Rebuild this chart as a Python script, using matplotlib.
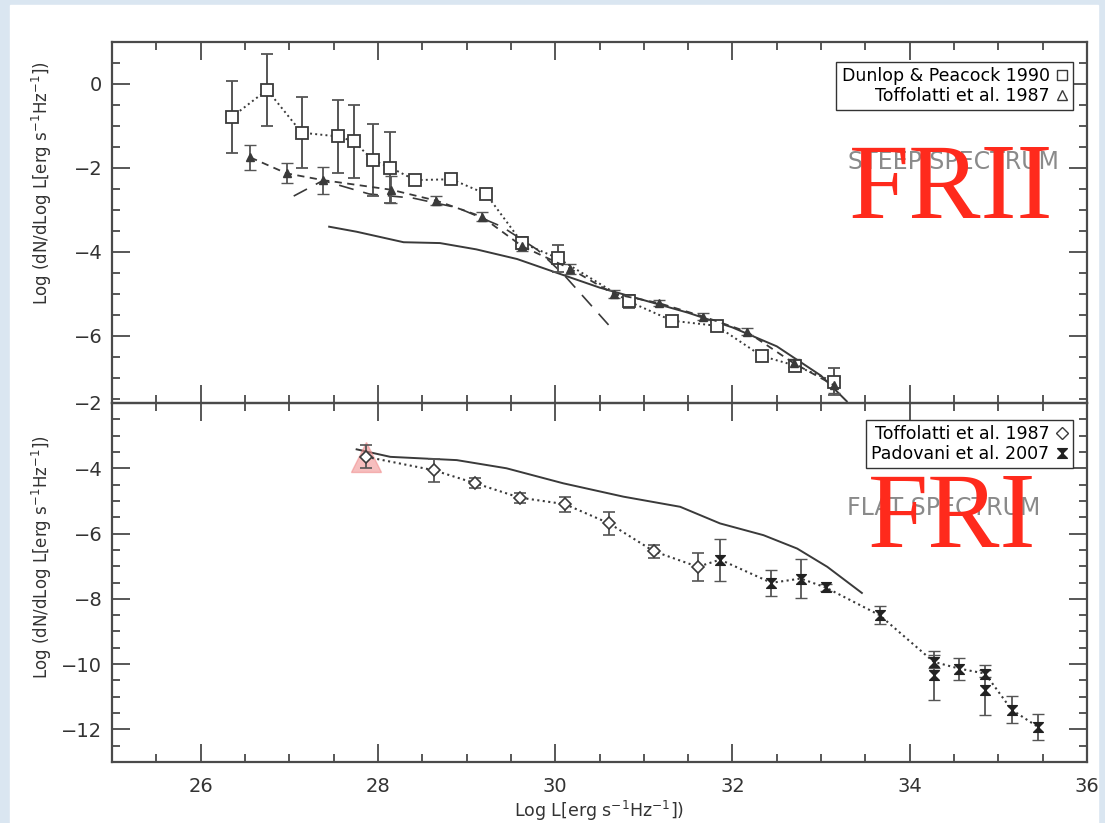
import matplotlib
matplotlib.use("Agg")
import matplotlib.pyplot as plt
from matplotlib.lines import Line2D
from matplotlib.patches import Rectangle
from matplotlib.path import Path
from matplotlib.ticker import MultipleLocator

# --- steep spectrum (FRII) panel ---
# Dunlop & Peacock 1990 (open squares)
dp_x = [26.35, 26.75, 27.14, 27.55, 27.73, 27.94, 28.14, 28.42, 28.83, 29.22,
        29.63, 30.03, 30.83, 31.32, 31.82, 32.33, 32.71, 33.14]
dp_y = [-0.79, -0.14, -1.16, -1.25, -1.37, -1.81, -1.99, -2.29, -2.27, -2.62,
        -3.79, -4.15, -5.18, -5.64, -5.76, -6.48, -6.71, -7.09]
dp_err = [0.86, 0.85, 0.85, 0.87, 0.86, 0.85, 0.85, 0.08, 0.08, 0.10,
          0.15, 0.32, 0.15, 0.08, 0.10, 0.12, 0.12, 0.33]

# Toffolatti et al. 1987 (triangles)
tf_x = [26.56, 26.97, 27.38, 28.15, 28.66, 29.17, 29.63, 30.17, 30.66, 31.17,
        31.67, 32.16, 32.69, 33.14]
tf_y = [-1.75, -2.13, -2.29, -2.52, -2.78, -3.16, -3.87, -4.40, -5.00, -5.22,
        -5.54, -5.90, -6.65, -7.17]
tf_err = [0.30, 0.24, 0.32, 0.32, 0.10, 0.10, 0.12, 0.12, 0.10, 0.08,
          0.08, 0.08, 0.10, 0.20]

# model curves, steep spectrum
steep_solid_x = [27.45, 27.76, 28.29, 28.70, 29.11, 29.57, 30.02, 30.50, 31.00,
                 31.50, 32.00, 32.50, 33.00, 33.29]
steep_solid_y = [-3.40, -3.52, -3.77, -3.79, -3.94, -4.17, -4.50, -4.85, -5.15,
                 -5.45, -5.80, -6.25, -6.95, -7.56]
steep_dash_x = [27.05, 27.38, 27.90, 28.40, 28.90, 29.40, 29.80, 30.10, 30.67]
steep_dash_y = [-2.67, -2.30, -2.62, -2.72, -2.95, -3.40, -3.95, -4.55, -5.90]

# --- flat spectrum (FRI) panel ---
# Toffolatti et al. 1987 (diamonds)
td_x = [27.87, 28.63, 29.10, 29.60, 30.11, 30.61, 31.11, 31.61]
td_y = [-3.65, -4.06, -4.46, -4.90, -5.10, -5.69, -6.54, -7.02]
td_err = [0.35, 0.35, 0.15, 0.15, 0.23, 0.35, 0.20, 0.43]

# Padovani et al. 2007 (bowties)
pd_x = [31.86, 32.44, 32.77, 33.05, 33.66, 34.27, 34.56, 34.85, 35.15, 35.45]
pd_y = [-6.80, -7.51, -7.38, -7.65, -8.50, -9.93, -10.14, -10.29, -11.40, -11.93]
pd_err = [0.64, 0.40, 0.60, 0.10, 0.28, 0.20, 0.34, 0.10, 0.42, 0.41]
pd2_x = [34.27, 34.85]
pd2_y = [-10.34, -10.80]
pd2_err = [0.75, 0.77]

flat_solid_x = [27.76, 28.14, 28.89, 29.45, 30.09, 30.77, 31.41, 31.86, 32.35,
                32.73, 33.07, 33.46]
flat_solid_y = [-3.42, -3.65, -3.75, -4.00, -4.46, -4.87, -5.18, -5.69, -6.05,
                -6.46, -7.02, -7.82]

ink = "#3a3a3a"
frame = "#4a4a4a"
red = "#ff2a1c"
ylab = r"Log (dN/dLog L[erg s$^{-1}$Hz$^{-1}$])"

# hourglass marker for the Padovani points
bowtie = Path([(-1, 1), (1, 1), (-1, -1), (1, -1), (-1, 1)],
              [Path.MOVETO, Path.LINETO, Path.LINETO, Path.LINETO, Path.CLOSEPOLY])

W, H = 1105, 823
fig = plt.figure(figsize=(W / 100, H / 100), dpi=100, facecolor="#dae6f1")
# white sheet behind the plot
fig.patches.append(Rectangle((10 / W, 0), (1098 - 10) / W, (H - 5) / H,
                             transform=fig.transFigure, color="white", zorder=-10))

left, width = 112 / W, 975 / W
ax1 = fig.add_axes([left, 1 - 403 / H, width, 361 / H])
ax2 = fig.add_axes([left, 1 - 762 / H, width, 359 / H])


def style(ax):
    ax.set_xlim(25, 36)
    ax.xaxis.set_major_locator(MultipleLocator(2))
    ax.xaxis.set_minor_locator(MultipleLocator(0.5))
    ax.yaxis.set_major_locator(MultipleLocator(2))
    ax.yaxis.set_minor_locator(MultipleLocator(0.5))
    ax.tick_params(which="both", direction="in", top=True, right=True,
                   color=frame, width=1.3, labelsize=14, labelcolor="#333333")
    ax.tick_params(which="major", length=13)
    ax.tick_params(which="minor", length=6)
    ax.tick_params(axis="y", pad=7)
    ax.tick_params(axis="x", pad=11)
    for s in ax.spines.values():
        s.set_color(frame)
        s.set_linewidth(1.6)
    ax.set_facecolor("none")


def key(ax, handles, labels, top):
    ax.legend(handles, labels, loc="upper right", bbox_to_anchor=(0.9856, top),
              markerfirst=False, alignment="right", fancybox=False,
              edgecolor="#333333", framealpha=1, fontsize=12.5,
              handlelength=0.7, handletextpad=0.35, borderpad=0.3,
              labelspacing=0.1, borderaxespad=0)


# top panel: steep spectrum
style(ax1)
ax1.set_ylim(-7.6, 1)
ax1.tick_params(labelbottom=False)
ax1.plot(steep_solid_x, steep_solid_y, color=ink, lw=1.4)
ax1.plot(steep_dash_x, steep_dash_y, color=ink, lw=1.2, dashes=(9, 6))
ax1.errorbar(dp_x, dp_y, yerr=dp_err, fmt="s", ls=":", color=ink, lw=1.4,
             mfc="white", mec=ink, ms=9, mew=1.3, capsize=4, ecolor="#555555",
             elinewidth=1.4)
ax1.errorbar(tf_x, tf_y, yerr=tf_err, fmt="^", ls="--", dashes=(4, 3), color=ink,
             lw=1.3, mfc=ink, mec=ink, ms=6, capsize=4, ecolor="#555555",
             elinewidth=1.3)
ax1.text(33.30, -1.86, "STEEP SPECTRUM", fontsize=17, color="#8a8a8a",
         ha="left", va="center")
ax1.text(33.31, -3.19, "FRII", fontsize=78, color=red, family="Liberation Serif",
         ha="left", va="baseline")
key(ax1,
    [Line2D([], [], marker="s", ls="none", mfc="none", mec=ink, ms=7),
     Line2D([], [], marker="^", ls="none", mfc="none", mec=ink, ms=7)],
    ["Dunlop & Peacock 1990", "Toffolatti et al. 1987"], 0.9446)
ax1.set_ylabel(ylab, fontsize=12, color="#333333")
ax1.yaxis.set_label_coords(-0.059, 0.61)

# bottom panel: flat spectrum
style(ax2)
ax2.set_ylim(-13, -2)
ax2.plot(flat_solid_x, flat_solid_y, color=ink, lw=1.4)
ax2.plot(td_x[:1], td_y[:1], marker="^", ms=22, color="#f08a8a", alpha=0.55,
         ls="none")
ax2.plot(td_x + pd_x, td_y + pd_y, ls=":", color=ink, lw=1.5)
ax2.errorbar(td_x, td_y, yerr=td_err, fmt="D", color=ink, mfc="white", mec=ink,
             ms=6, mew=1.2, capsize=4, ecolor="#555555", elinewidth=1.3)
ax2.errorbar(pd_x, pd_y, yerr=pd_err, fmt="none", capsize=4, ecolor="#555555",
             elinewidth=1.3)
ax2.errorbar(pd2_x, pd2_y, yerr=pd2_err, fmt="none", capsize=4, ecolor="#555555",
             elinewidth=1.3)
ax2.plot(pd_x + pd2_x, pd_y + pd2_y, marker=bowtie, ls="none", color="#222222",
         ms=7)
ax2.text(33.29, -5.22, "FLAT SPECTRUM", fontsize=17, color="#8a8a8a",
         ha="left", va="center")
ax2.text(33.53, -6.42, "FRI", fontsize=78, color=red, family="Liberation Serif",
         ha="left", va="baseline")
key(ax2,
    [Line2D([], [], marker="D", ls="none", mfc="none", mec=ink, ms=6),
     Line2D([], [], marker=bowtie, ls="none", color="#222222", ms=7)],
    ["Toffolatti et al. 1987", "Padovani et al. 2007"], 0.9526)
ax2.set_ylabel(ylab, fontsize=12, color="#333333")
ax2.yaxis.set_label_coords(-0.059, 0.57)
ax2.set_xlabel(r"Log L[erg s$^{-1}$Hz$^{-1}$])", fontsize=12.5, color="#333333",
               labelpad=2)

fig.savefig("out.png", dpi=100, facecolor=fig.get_facecolor())
